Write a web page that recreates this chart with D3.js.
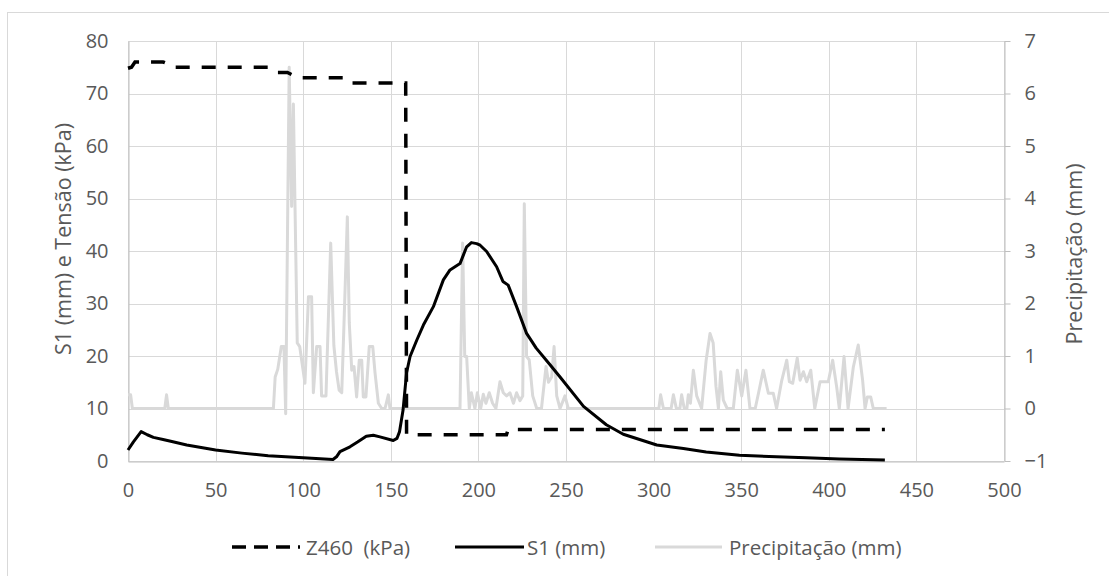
<!DOCTYPE html>
<html>
<head>
<meta charset="utf-8">
<script src="https://cdn.jsdelivr.net/npm/d3@7"></script>
<style>
  html, body { margin: 0; padding: 0; background: #fff; }
  svg { display: block; }
  text { font-family: "Open Sans", "Noto Sans", sans-serif; fill: #595959; white-space: pre; }
</style>
</head>
<body>
<svg id="chart" width="1109" height="576"></svg>
<script>
// Tensiometer Z460 (kPa), day vs value
const z460Days = [0, 2, 4, 20, 24, 26, 80, 84, 91, 97, 125, 128, 158.5, 159, 216, 217, 432];
const z460KPa  = [74.8, 75, 76, 76, 75.5, 75, 75, 74, 74, 73, 73, 72, 72, 5, 5, 6, 6];

// Settlement S1 (mm)
const s1Days = [0, 3, 7.5, 11, 14.5, 20, 25, 33.5, 50, 65, 80, 100, 117, 119, 121, 126.7, 131, 136, 140, 143.8,
  151.4, 153.5, 155, 157, 159, 161, 164.8, 168.6, 174.3, 180, 183.8, 189.5, 193.3, 196, 199, 201, 204.7, 210.4,
  214, 217, 221.8, 227.5, 233, 241, 246.6, 260, 273, 282.7, 301.8, 317, 330, 349, 370, 387, 406, 432];
const s1Mm = [2.1, 3.6, 5.6, 5.0, 4.5, 4.1, 3.7, 3.05, 2.1, 1.5, 1.0, 0.6, 0.3, 0.8, 1.8, 2.7, 3.6, 4.7, 4.9, 4.6,
  3.9, 4.3, 5.6, 9.7, 16.8, 19.9, 23, 25.9, 29.4, 34.5, 36.4, 37.6, 40.8, 41.6, 41.4, 41.1, 39.9, 37,
  34.2, 33.5, 29.4, 24.3, 21.5, 18.3, 16, 10.4, 6.9, 5.1, 3.05, 2.4, 1.7, 1.1, 0.8, 0.6, 0.4, 0.2];

// Daily precipitation (mm), secondary axis
const precipDays = [0, 1.5, 2.5, 21, 22, 23,
  83, 84, 85.5, 87.5, 89, 90, 92, 93.4, 94.4, 95.3, 96.6, 98, 101, 103, 104.8, 105.8, 107.7, 109.6, 110.5, 113,
  115.7, 117.5, 119, 120.5, 122, 123.3, 125.2, 126.3, 127.7, 129, 130.5, 132, 133.4, 134.3, 135.8, 137.7, 139.7,
  141, 142.9, 144.8, 146.7, 148.6, 149.5,
  189.5, 191, 192.2, 193.3, 194.8, 196, 198, 199.4, 201.3, 202.8, 204.3, 206.2, 208.1, 210, 212.3, 214.2, 216.1,
  218, 220, 221.8, 223.7, 225.3, 226.2, 227.5, 229, 231, 233.3, 236, 238.6, 240, 241.8, 243.2, 244.7, 246.6,
  249.4, 251.3,
  303, 304, 305.6, 310, 311.3, 313, 315, 316, 317.5, 319, 319.8, 321, 322.7, 324.6, 327.4, 330, 332.2, 334,
  335.6, 337, 338.3, 339.8, 342, 345.5, 347.8, 350.3, 352.7, 355, 358, 359.8, 362.6, 365.5, 368.3, 370.2, 373,
  376, 377.5, 379.4, 382, 383.6, 385.5, 387.4, 389.7, 392, 395, 397.8, 399.7, 402.2, 404.5, 406, 408.7, 411,
  414, 416.8, 419.3, 420.7, 422, 423.9, 425.4, 433];
const precipMm = [0.26, 0.26, 0, 0, 0.26, 0,
  0, 0.6, 0.75, 1.18, 1.18, -0.1, 6.5, 3.85, 5.8, 3.9, 1.25, 1.18, 0.48, 2.13, 2.13, 0.3, 1.18, 1.18, 0.24, 0.24,
  3.15, 1.2, 0.7, 0.35, 0.3, 1.63, 3.65, 1.63, 0.73, 0.8, 0.22, 0.92, 0.92, 0.22, 0.22, 1.18, 1.18,
  0.68, 0.1, 0, 0, 0.26, 0,
  0, 3.15, 0.99, 0.99, 0, 0.3, 0, 0.3, 0, 0.27, 0.1, 0.3, 0.1, 0, 0.51, 0.3, 0.24,
  0.3, 0.1, 0.3, 0.15, 0.24, 3.9, 0.99, 0.93, 0.24, 0, 0, 0.8, 0.5, 0.6, 1.18, 0.24, 0,
  0.24, 0,
  0, 0.26, 0, 0, 0.26, 0, 0, 0.26, 0, 0, 0.26, 0.1, 0.73, 0.24, 0, 0.92, 1.43, 1.25,
  0.42, 0, 0.7, 0.16, 0, 0, 0.73, 0.24, 0.73, 0, 0, 0.28, 0.73, 0.29, 0.29, 0, 0.51,
  0.92, 0.51, 0.48, 0.96, 0.54, 0.7, 0.51, 0.73, 0, 0.51, 0.51, 0.51, 0.92, 0.41, 0, 0.99, 0,
  0.79, 1.21, 0.54, 0, 0.22, 0.22, 0, 0];

const xTicks = [0, 50, 100, 150, 200, 250, 300, 350, 400, 450, 500];
const leftTicks = [0, 10, 20, 30, 40, 50, 60, 70, 80];
const rightTicks = [-1, 0, 1, 2, 3, 4, 5, 6, 7];
const legendLabels = ["Z460  (kPa)", "S1 (mm)", "Precipitação (mm)"];

const svg = d3.select("#chart");
const W = 1109, H = 576;
const plot = { left: 128, right: 1004, top: 41, bottom: 461 };

const x = d3.scaleLinear().domain([0, 500]).range([plot.left, plot.right]);
const yL = d3.scaleLinear().domain([0, 80]).range([plot.bottom, plot.top]);
const yR = d3.scaleLinear().domain([-1, 7]).range([plot.bottom, plot.top]);

// chart frame
svg.append("rect")
  .attr("x", 7.5).attr("y", 12.5)
  .attr("width", W).attr("height", H)
  .attr("fill", "none").attr("stroke", "#d9d9d9").attr("stroke-width", 1);

const gridColor = "#d9d9d9";

// horizontal gridlines
svg.append("g")
  .selectAll("line").data(leftTicks).join("line")
  .attr("x1", plot.left).attr("x2", plot.right)
  .attr("y1", d => Math.round(yL(d)) + 0.5).attr("y2", d => Math.round(yL(d)) + 0.5)
  .attr("stroke", gridColor).attr("stroke-width", 1);

// vertical gridlines
svg.append("g")
  .selectAll("line").data(xTicks).join("line")
  .attr("x1", d => Math.round(x(d)) + 0.5).attr("x2", d => Math.round(x(d)) + 0.5)
  .attr("y1", plot.top).attr("y2", plot.bottom)
  .attr("stroke", gridColor).attr("stroke-width", 1);

function styleAxis(g) {
  g.select(".domain").attr("stroke", "#bfbfbf").attr("stroke-width", 1);
  g.selectAll(".tick line").attr("stroke", "#bfbfbf");
  g.selectAll("text")
    .attr("font-family", '"Open Sans", sans-serif')
    .attr("font-size", 20)
    .attr("fill", "#595959");
}

// bottom axis
svg.append("g")
  .attr("transform", `translate(0,${plot.bottom + 0.5})`)
  .call(d3.axisBottom(x).tickValues(xTicks).tickSize(0).tickPadding(21).tickFormat(d3.format("d")))
  .call(styleAxis);

// left axis
svg.append("g")
  .attr("transform", `translate(${plot.left + 0.5},0)`)
  .call(d3.axisLeft(yL).tickValues(leftTicks).tickSize(0).tickPadding(20).tickFormat(d3.format("d")))
  .call(styleAxis);

// right axis
svg.append("g")
  .attr("transform", `translate(${plot.right + 0.5},0)`)
  .call(d3.axisRight(yR).tickValues(rightTicks).tickSizeInner(6).tickSizeOuter(0).tickPadding(14).tickFormat(d3.format("d")))
  .call(styleAxis);

// axis titles
svg.append("text")
  .attr("transform", `translate(62,${(plot.top + plot.bottom) / 2 - 12}) rotate(-90)`)
  .attr("text-anchor", "middle").attr("dominant-baseline", "central")
  .attr("font-size", 21.5)
  .text("S1 (mm) e Tensão (kPa)");

svg.append("text")
  .attr("transform", `translate(1073,${(plot.top + plot.bottom) / 2 + 3}) rotate(-90)`)
  .attr("text-anchor", "middle").attr("dominant-baseline", "central")
  .attr("font-size", 21.5)
  .text("Precipitação (mm)");

// series
const lineFrom = (days, vals, y) => d3.line().x((d, i) => x(days[i])).y((d, i) => y(vals[i]))(days);

svg.append("path")
  .attr("d", lineFrom(precipDays, precipMm, yR))
  .attr("fill", "none").attr("stroke", "#d9d9d9").attr("stroke-width", 3)
  .attr("stroke-linejoin", "round");

svg.append("path")
  .attr("d", lineFrom(s1Days, s1Mm, yL))
  .attr("fill", "none").attr("stroke", "#000").attr("stroke-width", 3)
  .attr("stroke-linejoin", "round");

svg.append("path")
  .attr("d", lineFrom(z460Days, z460KPa, yL))
  .attr("fill", "none").attr("stroke", "#000").attr("stroke-width", 3.5)
  .attr("stroke-dasharray", "14,12");

// legend
const legendY = 547;
const legendItems = [
  { x1: 232, x2: 300, tx: 306, stroke: "#000", width: 3.5, dash: "14,8" },
  { x1: 455, x2: 524, tx: 527, stroke: "#000", width: 3, dash: null },
  { x1: 655, x2: 722, tx: 729, stroke: "#d9d9d9", width: 3, dash: null }
];
const lg = svg.append("g");
legendItems.forEach((it, i) => {
  lg.append("line")
    .attr("x1", it.x1).attr("x2", it.x2).attr("y1", legendY).attr("y2", legendY)
    .attr("stroke", it.stroke).attr("stroke-width", it.width)
    .attr("stroke-dasharray", it.dash);
  lg.append("text")
    .attr("x", it.tx).attr("y", legendY)
    .attr("dominant-baseline", "central")
    .attr("xml:space", "preserve")
    .attr("font-size", 20.5)
    .text(legendLabels[i]);
});
</script>
</body>
</html>
